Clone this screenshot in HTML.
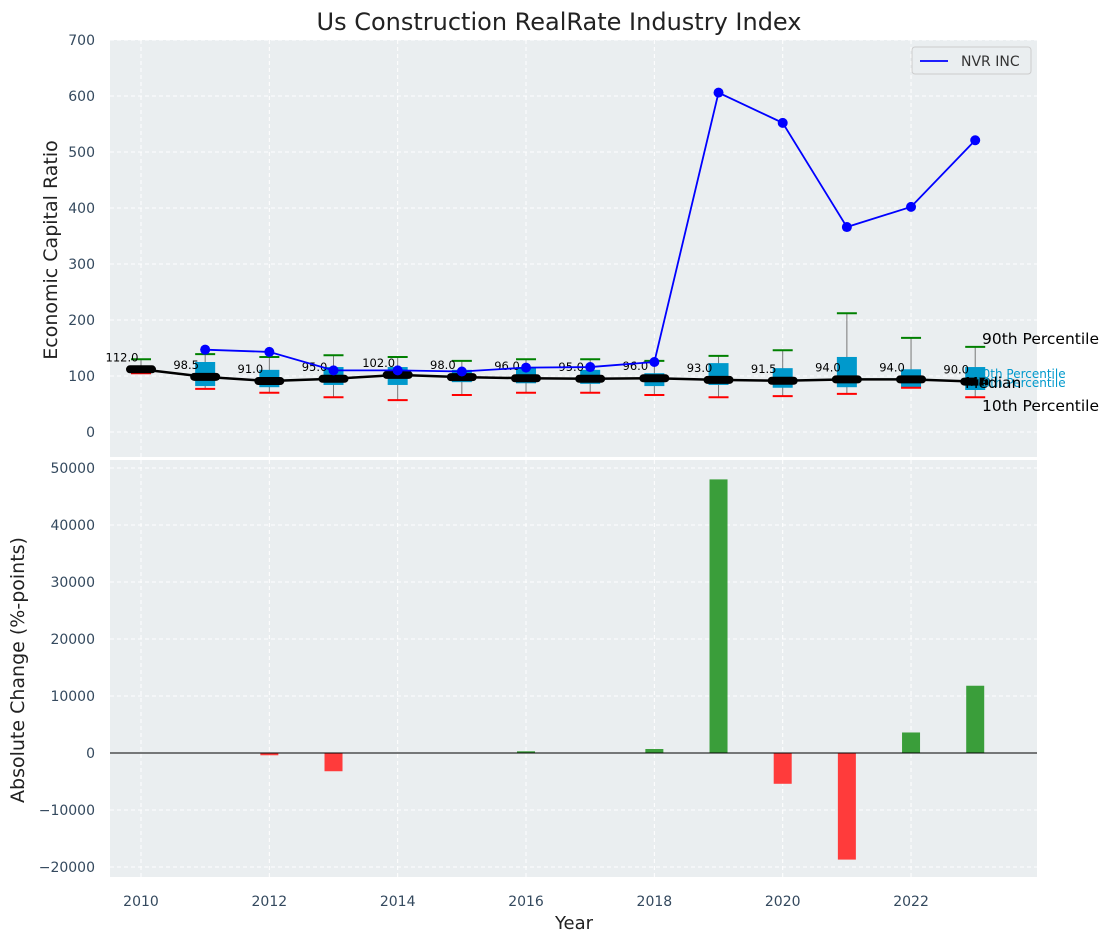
<!DOCTYPE html>
<html><head><meta charset="utf-8"><style>
body{margin:0;background:#fff;}
svg{display:block;font-family:"DejaVu Sans","Liberation Sans",sans-serif;}
</style></head><body>
<svg id="c" width="1117" height="942"></svg>
<script>
const years=[2010,2011,2012,2013,2014,2015,2016,2017,2018,2019,2020,2021,2022,2023];
const nvr=[null,147,143,110,110,108,115,116,125,606,552,366,402,521];
const medians=[112.0,98.5,91.0,95.0,102.0,98.0,96.0,95.0,96.0,93.0,91.5,94.0,94.0,90.0];
const p90=[130,139,134,137,134,127,130,130,127,136,146,212,168,152];
const p10=[105,77,70,62,57,66,70,70,66,62,64,68,79,62];
const q75=[118,125,111,116,116,111,116,111,105,123,114,134,112,116];
const q25=[108,82,80,84,84,89,87,86,82,84,79,80,80,75];
const changes=[0,0,-400,-3200,0,0,300,0,700,48000,-5400,-18700,3600,11800];
const topTicks=[0,100,200,300,400,500,600,700];
const botTicks=[-20000,-10000,0,10000,20000,30000,40000,50000];
const xTicks=[2010,2012,2014,2016,2018,2020,2022];

const NS="http://www.w3.org/2000/svg";const svg=document.getElementById('c');
function el(t,a,p){const e=document.createElementNS(NS,t);for(const k in a)e.setAttribute(k,a[k]);(p||svg).appendChild(e);return e;}
function tx(s,a,p){const e=el('text',a,p);e.textContent=s;return e;}
const X=y=>141+(y-2010)*64.17;
const YT=v=>432-0.56*v;
const YB=v=>753-0.0057*v;
let e=el('rect',{x:110,y:40,width:927,height:417,fill:'#eaeef0'});

e=el('rect',{x:110,y:460,width:927,height:417,fill:'#eaeef0'});

xTicks.forEach(t=>{
 el('line',{x1:X(t),x2:X(t),y1:40,y2:457,stroke:'#fff','stroke-dasharray':'4,3','stroke-width':1});
 el('line',{x1:X(t),x2:X(t),y1:460,y2:877,stroke:'#fff','stroke-dasharray':'4,3','stroke-width':1});
 e=tx(t,{x:X(t),y:906,'text-anchor':'middle','font-size':14,fill:'#34495e'});
 
});
topTicks.forEach(t=>{
 el('line',{x1:110,x2:1037,y1:YT(t),y2:YT(t),stroke:'#fff','stroke-dasharray':'4,3'});
 e=tx(t,{x:95,y:YT(t)+5,'text-anchor':'end','font-size':14,fill:'#34495e'});
 
});
botTicks.forEach(t=>{
 el('line',{x1:110,x2:1037,y1:YB(t),y2:YB(t),stroke:'#fff','stroke-dasharray':'4,3'});
 e=tx(t<0?'\u2212'+(-t):t,{x:95,y:YB(t)+5,'text-anchor':'end','font-size':14,fill:'#34495e'});
 
});
years.forEach((y,i)=>{
 const x=X(y);
 el('line',{x1:x,x2:x,y1:YT(p90[i]),y2:YT(p10[i]),stroke:'#777','stroke-width':1});
 e=el('rect',{x:x-10,y:YT(q75[i]),width:20,height:YT(q25[i])-YT(q75[i]),fill:'#0099cc'});
 
 e=el('line',{x1:x-10,x2:x+10,y1:YT(p90[i]),y2:YT(p90[i]),stroke:'green','stroke-width':2});
 
 e=el('line',{x1:x-10,x2:x+10,y1:YT(p10[i]),y2:YT(p10[i]),stroke:'red','stroke-width':2});
 
});
e=el('polyline',{points:years.map((y,i)=>X(y)+','+YT(medians[i])).join(' '),fill:'none',stroke:'#000','stroke-width':2.5});

years.forEach((y,i)=>{
 e=el('line',{x1:X(y)-11,x2:X(y)+11,y1:YT(medians[i]),y2:YT(medians[i]),stroke:'#000','stroke-width':8,'stroke-linecap':'round'});
 
 e=tx(medians[i].toFixed(1),{x:X(y)-19,y:YT(medians[i])-8,'text-anchor':'middle','font-size':11.5,fill:'#000'});
 
});
const pts=[];years.forEach((y,i)=>{if(nvr[i]!=null)pts.push(X(y)+','+YT(nvr[i]));});
e=el('polyline',{points:pts.join(' '),fill:'none',stroke:'#0000ff','stroke-width':1.8});

years.forEach((y,i)=>{if(nvr[i]==null)return;
 e=el('circle',{cx:X(y),cy:YT(nvr[i]),r:5,fill:'#0000ff'});
 });
// annotations
tx('90th Percentile',{x:975,y:378,'font-size':12,fill:'#0099cc'});
tx('10th Percentile',{x:975,y:387,'font-size':12,fill:'#0099cc'});
e=tx('90th Percentile',{x:982,y:344,'font-size':15.5,fill:'#000'});

e=tx('Median',{x:965,y:388,'font-size':15.5,fill:'#000'});

e=tx('10th Percentile',{x:982,y:411,'font-size':15.5,fill:'#000'});

years.forEach((y,i)=>{const v=changes[i];if(!v)return;
 e=el('rect',{x:X(y)-9,y:Math.min(YB(v),YB(0)),width:18,height:Math.abs(YB(v)-YB(0)),fill:v>0?'#3a9e3a':'#ff3b3b'});
 });
el('line',{x1:110,x2:1037,y1:YB(0),y2:YB(0),stroke:'#000','stroke-width':1});
const lg=el('g',{});
el('rect',{x:912,y:47,width:119,height:27,rx:3,fill:'#eaeef0',stroke:'#ccc'},lg);
el('line',{x1:920,x2:948,y1:61,y2:61,stroke:'#0000ff','stroke-width':1.8},lg);
tx('NVR INC',{x:961,y:66,'font-size':14,fill:'#333'},lg);
e=tx('Us Construction RealRate Industry Index',{x:559,y:30,'text-anchor':'middle','font-size':24,fill:'#222'});

e=tx('Economic Capital Ratio',{x:0,y:0,transform:'translate(57,250) rotate(-90)','text-anchor':'middle','font-size':19,fill:'#222'});

e=tx('Absolute Change (%-points)',{x:0,y:0,transform:'translate(24,670) rotate(-90)','text-anchor':'middle','font-size':19,fill:'#222'});

e=tx('Year',{x:574,y:929,'text-anchor':'middle','font-size':18,fill:'#222'});

</script>
</body></html>
